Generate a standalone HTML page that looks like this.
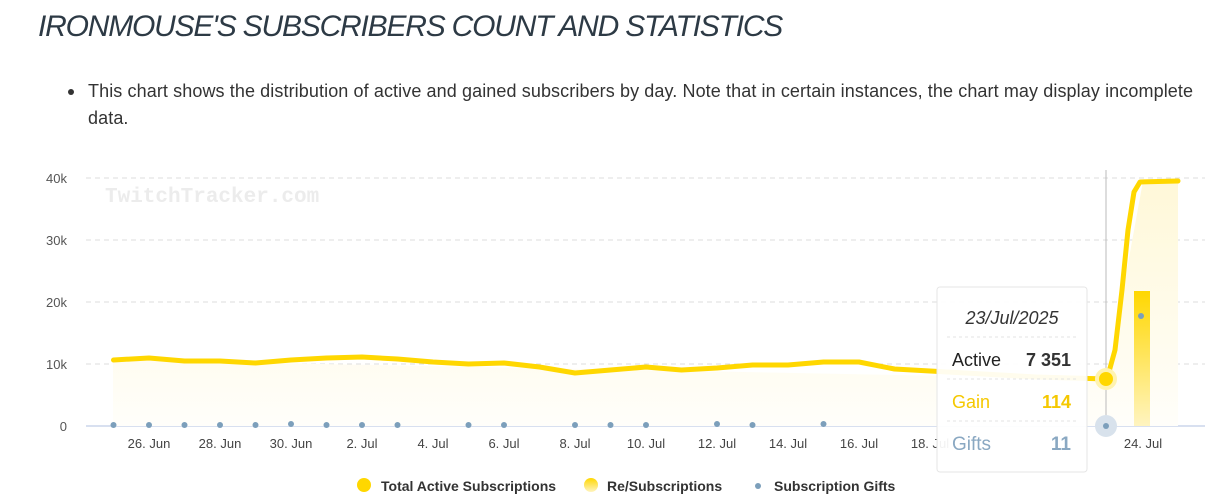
<!DOCTYPE html>
<html><head><meta charset="utf-8"><style>
body{margin:0;width:1210px;height:496px;background:#fff;font-family:"Liberation Sans",sans-serif;overflow:hidden;position:relative}
h1{position:absolute;left:38px;top:10px;margin:0;font-size:30px;font-weight:normal;font-style:italic;color:#2d3a45;letter-spacing:-1.2px}
.p{position:absolute;left:88px;top:78px;width:1112px;font-size:18px;line-height:27px;color:#333;letter-spacing:0.1px}
.b{position:absolute;left:68px;top:89px;width:6px;height:6px;border-radius:3px;background:#333}
svg{position:absolute;left:0;top:0}
</style></head><body>
<h1>IRONMOUSE'S SUBSCRIBERS COUNT AND STATISTICS</h1>
<div class="b"></div>
<div class="p">This chart shows the distribution of active and gained subscribers by day. Note that in certain instances, the chart may display incomplete data.</div>
<svg width="1210" height="496" font-family="Liberation Sans, sans-serif">
<defs><linearGradient id="g" x1="0" y1="0" x2="0" y2="1"><stop offset="0" stop-color="#ffd700"/><stop offset="1" stop-color="#fff4c0"/></linearGradient>
<linearGradient id="f" x1="0" y1="0" x2="0" y2="1"><stop offset="0" stop-color="#fff8d8"/><stop offset="1" stop-color="#fffefa"/></linearGradient></defs>
<g stroke="#ddd" stroke-dasharray="5,4">
<line x1="86" y1="178" x2="1205" y2="178"/><line x1="86" y1="240" x2="1205" y2="240"/><line x1="86" y1="302" x2="1205" y2="302"/><line x1="86" y1="364" x2="1205" y2="364"/></g>
<line x1="86" y1="426" x2="1205" y2="426" stroke="#ccd6eb" stroke-width="1.5"/>
<g font-size="13" fill="#555" text-anchor="end"><text x="67" y="183">40k</text><text x="67" y="245">30k</text><text x="67" y="307">20k</text><text x="67" y="369">10k</text><text x="67" y="431">0</text></g>
<text x="105" y="202" font-family="Liberation Mono, monospace" font-weight="bold" font-size="21" fill="#ececec">TwitchTracker.com</text>
<polygon fill="url(#f)" points="113,360 1107,379 1143,181 1178,181 1178,426 113,426"/>
<polyline fill="none" stroke="#ffd700" stroke-width="5" stroke-linejoin="round" stroke-linecap="round" points="113.5,360 149,358 184.5,361 220,361 255.5,363 291,360 326.5,358 362,357 397.5,359 433,362 468.5,364 504,363 539.5,367 575,373 610.5,370 646,367 681.5,370 717,368 752.5,365 788,365 823.5,362 859,362 894.5,369 930,371 965.5,373 1001,375 1036.5,377 1072,378 1107,379 1115,350 1122,290 1128,230 1134,192 1140,182 1178,181"/>
<rect x="1134" y="291" width="16" height="135" fill="url(#g)"/>
<line x1="1106" y1="170" x2="1106" y2="426" stroke="#bbb"/>
<circle cx="1106" cy="379" r="11" fill="#fff3b0"/><circle cx="1106" cy="379" r="7" fill="#ffd700"/>
<circle cx="1106" cy="426" r="11" fill="#d8e2ec"/>
<g fill="#7c9fbb">
<circle cx="113.5" cy="425" r="3"/><circle cx="149" cy="425" r="3"/><circle cx="184.5" cy="425" r="3"/><circle cx="220" cy="425" r="3"/><circle cx="255.5" cy="425" r="3"/><circle cx="291" cy="424" r="3"/><circle cx="326.5" cy="425" r="3"/><circle cx="362" cy="425" r="3"/><circle cx="397.5" cy="425" r="3"/><circle cx="468.5" cy="425" r="3"/><circle cx="504" cy="425" r="3"/><circle cx="575" cy="425" r="3"/><circle cx="610.5" cy="425" r="3"/><circle cx="646" cy="425" r="3"/><circle cx="717" cy="424" r="3"/><circle cx="752.5" cy="425" r="3"/><circle cx="823.5" cy="424" r="3"/><circle cx="1106" cy="426" r="3"/><circle cx="1141" cy="316" r="3"/></g>
<g font-size="13" fill="#444" text-anchor="middle">
<text x="149" y="448">26. Jun</text><text x="220" y="448">28. Jun</text><text x="291" y="448">30. Jun</text><text x="362" y="448">2. Jul</text><text x="433" y="448">4. Jul</text><text x="504" y="448">6. Jul</text><text x="575" y="448">8. Jul</text><text x="646" y="448">10. Jul</text><text x="717" y="448">12. Jul</text><text x="788" y="448">14. Jul</text><text x="859" y="448">16. Jul</text><text x="930" y="448">18. Jul</text><text x="1143" y="448">24. Jul</text></g>
<rect x="937" y="287" width="150" height="185" rx="3" fill="#fff" fill-opacity="0.93" stroke="#e6e6e6"/>
<text x="1012" y="324" text-anchor="middle" font-size="18" font-style="italic" fill="#333">23/Jul/2025</text>
<g stroke="#e3e3e3" stroke-dasharray="3,3"><line x1="947" y1="337" x2="1077" y2="337"/><line x1="947" y1="379" x2="1077" y2="379"/><line x1="947" y1="421" x2="1077" y2="421"/></g>
<text x="952" y="366" font-size="18" fill="#222">Active</text><text x="1071" y="366" text-anchor="end" font-size="18" font-weight="bold" fill="#333">7 351</text>
<text x="952" y="408" font-size="18" fill="#f5c800">Gain</text><text x="1071" y="408" text-anchor="end" font-size="18" font-weight="bold" fill="#f5c800">114</text>
<text x="952" y="450" font-size="19" fill="#8aa8c2">Gifts</text><text x="1071" y="450" text-anchor="end" font-size="19" font-weight="bold" fill="#8aa8c2">11</text>
<circle cx="364" cy="485" r="7" fill="#ffd700"/>
<text x="381" y="491" font-size="14" font-weight="bold" fill="#333">Total Active Subscriptions</text>
<circle cx="591" cy="485" r="7" fill="url(#g)"/>
<text x="607" y="491" font-size="14" font-weight="bold" fill="#333">Re/Subscriptions</text>
<circle cx="758" cy="486" r="3" fill="#7c9fbb"/>
<text x="774" y="491" font-size="14" font-weight="bold" fill="#333">Subscription Gifts</text>
</svg>
</body></html>
